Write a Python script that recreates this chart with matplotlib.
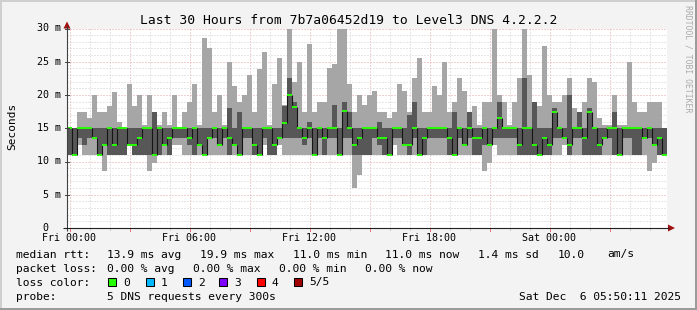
import matplotlib
matplotlib.use('Agg')
import matplotlib.pyplot as plt
import numpy as np
from matplotlib.patches import Rectangle, Polygon

# ---------------- data (ms), 15-minute bins, 120 bins over 30 hours ----------------
hi = [
    15, 15, 17.5, 17.5, 16.5, 20, 17.5, 17.5, 18.3, 20.5, 16, 15, 21.6, 18.3, 20, 15.5, 20, 17.5, 15.5, 17.5,
    15.5, 20, 15, 17.5, 19, 21.6, 15.5, 28.6, 27, 17.5, 20, 15.5, 25, 21.4, 19, 20, 23, 17.5, 23.9, 26.4,
    15.5, 21.6, 25.6, 18.5, 32, 22, 24.9, 17.5, 27.6, 17.5, 19, 19, 24, 24.6, 32, 32, 21.6, 17.5, 20, 18.5,
    20, 20.6, 17.5, 17.5, 16.5, 17.5, 21.6, 20.6, 17.5, 22.6, 25.6, 17.5, 17.5, 21.4, 20, 24.9, 17.5, 19, 22.6, 20.6,
    17.5, 18.3, 15.5, 19, 19, 32, 20, 19, 15.5, 19, 22.6, 32, 23, 19, 18.3, 27.4, 20, 19, 19, 20,
    22.6, 18, 17.5, 19, 22.6, 22, 16.5, 15.5, 15.5, 20, 15.5, 15.5, 24.9, 19, 17.5, 17.5, 19, 19, 19, 15,
]
q3 = [
    15, 15, 15, 15, 15, 15, 15, 15, 15, 15, 15, 15, 15, 15, 15, 15, 15, 17.5, 15, 15,
    15, 15, 15, 15, 15, 15, 15, 15, 15, 15, 15, 15, 18, 15, 17.5, 15, 15, 15, 15, 15,
    15, 15, 15, 18.3, 22.6, 19, 15, 15, 16, 15, 15, 15, 15, 18.5, 15, 19, 17.5, 15, 15, 15,
    15, 15, 16, 15, 15, 15, 15, 15, 17, 19, 15, 15, 15, 15, 15, 15, 15, 17.5, 15, 15,
    17.5, 15, 15, 15, 15, 15, 19, 15, 15, 15, 15, 22.6, 15, 19, 15, 15, 15, 18, 15, 15,
    20, 15, 17.5, 15, 18, 15, 15, 15, 15, 17.5, 15, 15, 15, 15, 15, 15, 15, 15, 15, 15,
]
med = [
    15, 11, 15, 15, 15, 13.5, 11, 12.5, 15, 12.5, 15, 15, 12.5, 12.5, 13.5, 15, 15, 11, 15, 12.5,
    13.5, 15, 15, 15, 13.5, 15, 12.5, 11, 13.5, 15, 12.5, 15, 13.5, 12.5, 11, 15, 15, 12.5, 11, 15,
    15, 12.5, 13.5, 15.8, 20, 18.2, 15, 13.5, 15, 11, 15, 13.5, 15, 15, 11, 17.6, 15, 12.5, 13.5, 15,
    15, 15, 13.5, 13.5, 11, 15, 15, 12.5, 12.5, 15, 11, 13.5, 15, 15, 15, 15, 13.5, 11, 15, 12.5,
    15, 13.5, 13.5, 15, 12.5, 15, 16.5, 15, 15, 15, 12.5, 15, 15, 12.5, 11, 13.5, 12.5, 17.5, 15, 13.5,
    12.5, 15, 15, 13.5, 17.5, 15, 12.5, 13.5, 15, 15, 11, 15, 15, 15, 15, 13.5, 15, 12.5, 13.5, 11,
]
q1 = [
    11, 11, 13.5, 12.5, 13.5, 13.5, 11, 12.5, 11, 11, 11, 11, 12.5, 11, 11, 11, 11, 11, 11, 12.5,
    11, 13.5, 13.5, 13.5, 12.5, 11, 12.5, 11, 13.5, 13.5, 12.5, 13.5, 11, 12.5, 11, 13.5, 13.5, 11, 11, 13.5,
    11, 11, 13.5, 13.5, 13.5, 13.5, 13.5, 12.5, 13.5, 11, 13.5, 11, 13.5, 13.5, 11, 13.5, 13.5, 11, 11, 11,
    11, 13.5, 12.5, 11, 11, 13.5, 13.5, 12.5, 11, 13.5, 11, 11, 13.5, 13.5, 13.5, 13.5, 11, 11, 13.5, 12.5,
    13.5, 11, 11, 12.5, 12.5, 13.5, 13.5, 13.5, 13.5, 13.5, 11, 11, 11, 11, 11, 11, 11, 13.5, 13.5, 13.5,
    11, 13.5, 13.5, 11, 11, 11, 11, 13.5, 13.5, 11, 11, 13.5, 13.5, 11, 11, 13.5, 13.5, 12.5, 11, 11,
]
lo = [
    11, 11, 12.5, 11, 11, 11, 11, 8.5, 11, 11, 11, 11, 12.5, 11, 11, 11, 8.5, 9.7, 11, 11,
    11, 12.5, 12.5, 11, 11, 11, 11, 11, 11, 11, 11, 11, 11, 11, 11, 11, 11, 11, 11, 12.5,
    11, 11, 12.5, 11, 11, 11, 11, 11, 11, 11, 11, 11, 11, 11, 11, 11, 11, 6.0, 8.0, 11,
    11, 11, 11, 11, 11, 12.5, 11, 11, 11, 11, 11, 11, 11, 11, 11, 11, 11, 11, 11, 11,
    11, 11, 11, 8.5, 9.7, 12.5, 11, 11, 11, 11, 11, 11, 11, 11, 11, 11, 11, 11, 11, 12.5,
    11, 11, 11, 11, 11, 11, 11, 11, 11, 11, 11, 11, 11, 11, 11, 11, 8.5, 9.7, 11, 11,
]

xtick_hours = [0, 6, 12, 18, 24]
xtick_labels = ["Fri 00:00", "Fri 06:00", "Fri 12:00", "Fri 18:00", "Sat 00:00"]
ytick_vals = [0, 5, 10, 15, 20, 25, 30]
ytick_labels = [" 0", " 5 m", "10 m", "15 m", "20 m", "25 m", "30 m"]

title = "Last 30 Hours from 7b7a06452d19 to Level3 DNS 4.2.2.2"
row1 = [("median rtt:", 16), ("13.9 ms avg", 107), ("19.9 ms max", 200), ("11.0 ms min", 293),
        ("11.0 ms now", 385), ("1.4 ms sd", 478), ("10.0", 558), ("am/s", 607)]
row2 = [("packet loss:", 16), ("0.00 % avg", 107), ("0.00 % max", 193), ("0.00 % min", 279),
        ("0.00 % now", 365)]
loss_labels = ["0", "1", "2", "3", "4", "5/5"]
loss_colors = ["#26ff00", "#00b8ff", "#0059ff", "#7e00ff", "#ff0000", "#a10000"]
loss_box_x = [108, 146, 183, 219, 257, 294]

# ---------------- figure ----------------
W, H = 697, 310
MONO = "DejaVu Sans Mono"
fig = plt.figure(figsize=(W / 100, H / 100), dpi=100)
fig.patch.set_facecolor("#f3f3f3")

PX0, PX1 = 67, 667
PYB, PYT = 228, 28.5
ax = fig.add_axes([PX0 / W, 1 - PYB / H, (PX1 - PX0) / W, (PYB - PYT) / H])
ax.set_facecolor("white")
T0 = -0.125
ax.set_xlim(T0, T0 + 30)
ax.set_ylim(0, 30)
for s in ax.spines.values():
    s.set_visible(False)
ax.set_xticks([])
ax.set_yticks([])

n = len(med)
xe = T0 + 0.25 * np.arange(n + 1)
ext = lambda a: np.r_[np.asarray(a, float), a[-1]]

# grid (under the smoke)
dash = (0, (1.0, 2.0))
for h in range(0, 30):
    major = (h % 3 == 0)
    ax.axvline(h, color="#e2a4a4" if major else "#cfcfcf", lw=0.72, ls=dash, zorder=0.5)
for v in range(1, 31):
    major = (v % 5 == 0)
    ax.axhline(v, color="#e2a4a4" if major else "#cfcfcf", lw=0.72, ls=dash, zorder=0.5)

ax.fill_between(xe, ext(lo), ext(hi), step="post", color="#a6a6a6", lw=0, antialiased=False, zorder=1)
ax.fill_between(xe, ext(q1), ext(q3), step="post", color="#575757", lw=0, antialiased=False, zorder=1.5)

medv = np.asarray(med, float)
ax.vlines(xe[1:-1], medv[:-1], medv[1:], colors="#151515", lw=0.8, zorder=3)
ax.hlines(medv, xe[:-1], xe[1:], colors="#26ff00", lw=1.4, zorder=4)

# ---------------- overlay in pixel coordinates ----------------
ov = fig.add_axes([0, 0, 1, 1])
ov.set_xlim(0, W)
ov.set_ylim(H, 0)
ov.axis("off")
ov.patch.set_alpha(0)
ov.set_zorder(10)

# frame
ov.add_patch(Rectangle((0, 0), W, 2, color="#cfcfcf", lw=0))
ov.add_patch(Rectangle((0, 0), 2, H, color="#cfcfcf", lw=0))
ov.add_patch(Rectangle((0, H - 2), W, 2, color="#9b9b9b", lw=0))
ov.add_patch(Rectangle((W - 2, 0), 2, H, color="#9b9b9b", lw=0))

def xpix(hour):
    return PX0 + (hour - T0) * 20.0

def ypix(val):
    return PYB - val * (PYB - PYT) / 30.0

# axes lines and arrows
ov.plot([PX0, PX0], [PYB + 3, PYT - 3], color="#404040", lw=0.8, solid_capstyle="butt")
ov.plot([PX0 - 4, PX1 + 2], [PYB, PYB], color="#202020", lw=0.8, solid_capstyle="butt")
ov.add_patch(Polygon([(PX0 - 3.5, PYT), (PX0 + 3.5, PYT), (PX0, PYT - 7)], closed=True,
                     color="#a01010", lw=0))
ov.add_patch(Polygon([(PX1 + 1, PYB - 3.5), (PX1 + 1, PYB + 3.5), (PX1 + 8, PYB)], closed=True,
                     color="#a01010", lw=0))
for h in range(0, 30):
    xp = xpix(h)
    if h % 3 == 0:
        ov.plot([xp, xp], [PYB + 0.5, PYB + 2.5], color="#e07070", lw=0.7)
    else:
        ov.plot([xp, xp], [PYB + 0.5, PYB + 2], color="#bbbbbb", lw=0.6)
for v in ytick_vals[1:]:
    yp = ypix(v)
    ov.plot([PX0 - 2, PX0 + 2], [yp, yp], color="#404040", lw=0.7)

# tick labels
for hr, lab in zip(xtick_hours, xtick_labels):
    ov.text(xpix(hr), 241, lab, ha="center", va="baseline", family=MONO, fontsize=7.2, color="#000000")
for v, lab in zip(ytick_vals, ytick_labels):
    ov.text(37, ypix(v) + 2.8, lab, ha="left", va="baseline", family=MONO, fontsize=7.2, color="#000000")

ov.text(348.5, 24, title, ha="center", va="baseline", family=MONO, fontsize=9.4, color="#000000")
ov.text(12, 126, "Seconds", ha="center", va="center", rotation=90, family=MONO, fontsize=8, color="#000000")
ov.text(688, 5, "RRDTOOL / TOBI OETIKER", ha="center", va="top", rotation=270, family=MONO,
        fontsize=5.9, color="#ababab")

# legend rows
for txt, x in row1:
    ov.text(x, 257.5, txt, ha="left", va="baseline", family=MONO, fontsize=8.1, color="#000000")
for txt, x in row2:
    ov.text(x, 271.5, txt, ha="left", va="baseline", family=MONO, fontsize=8.1, color="#000000")
ov.text(16, 285.5, "loss color:", ha="left", va="baseline", family=MONO, fontsize=8.1, color="#000000")
for lab, col, bx in zip(loss_labels, loss_colors, loss_box_x):
    ov.add_patch(Rectangle((bx, 278), 8, 8, facecolor=col, edgecolor="#000000", lw=0.75))
    ov.text(bx + 15, 285.5, lab, ha="left", va="baseline", family=MONO, fontsize=8.1, color="#000000")
ov.text(16, 299.5, "probe:", ha="left", va="baseline", family=MONO, fontsize=8.1, color="#000000")
ov.text(107, 299.5, "5 DNS requests every 300s", ha="left", va="baseline", family=MONO, fontsize=8.1,
        color="#000000")
ov.text(681, 299.5, "Sat Dec  6 05:50:11 2025", ha="right", va="baseline", family=MONO, fontsize=8.1,
        color="#000000")

fig.savefig("out.png", dpi=100, facecolor=fig.get_facecolor())
